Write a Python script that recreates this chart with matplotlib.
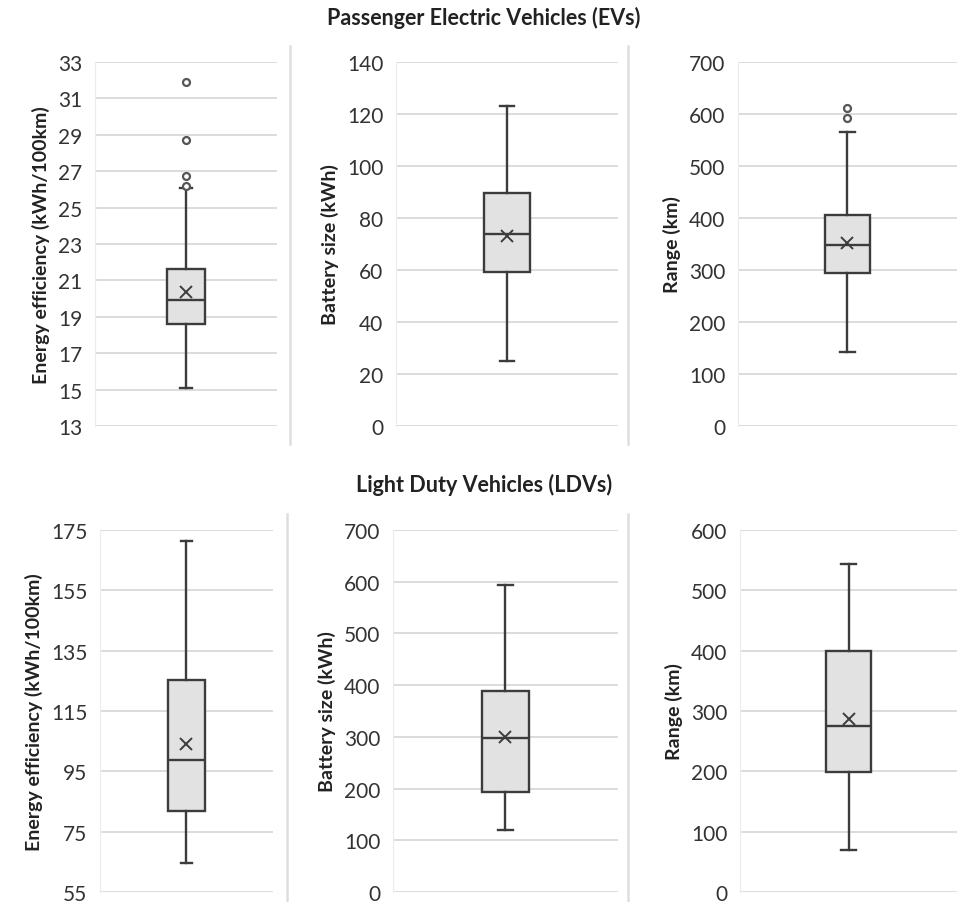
import matplotlib.pyplot as plt
from matplotlib.lines import Line2D

plt.rcParams['font.family'] = ['Lato', 'DejaVu Sans']

# box statistics per panel: whisker low, Q1, median, Q3, whisker high, mean, outliers
ev_eff = dict(whislo=15.1, q1=18.6, med=19.9, q3=21.65, whishi=26.1, mean=20.35,
              fliers=[26.2, 26.75, 28.7, 31.9])
ev_batt = dict(whislo=25, q1=59.2, med=74, q3=89.5, whishi=123, mean=73.1, fliers=[])
ev_range = dict(whislo=142, q1=295, med=349, q3=405, whishi=565, mean=351,
                fliers=[593, 611])
ldv_eff = dict(whislo=64.5, q1=81.7, med=98.8, q3=125.4, whishi=171.5, mean=104.1, fliers=[])
ldv_batt = dict(whislo=120, q1=193, med=297, q3=388, whishi=593, mean=300, fliers=[])
ldv_range = dict(whislo=70, q1=199.5, med=274.5, q3=399, whishi=544, mean=287, fliers=[])

ylabels = ["Energy efficiency (kWh/100km)", "Battery size (kWh)", "Range (km)"]
ev_ticks = [list(range(13, 34, 2)), list(range(0, 141, 20)), list(range(0, 701, 100))]
ldv_ticks = [list(range(55, 176, 20)), list(range(0, 701, 100)), list(range(0, 601, 100))]

W, H = 962, 903
fig = plt.figure(figsize=(W / 100, H / 100), dpi=100)

def px_axes(x0, x1, y0, y1):
    return fig.add_axes([x0 / W, 1 - y1 / H, (x1 - x0) / W, (y1 - y0) / H])

top = [px_axes(95, 277, 63, 427), px_axes(396, 618, 63, 427), px_axes(738, 957, 63, 427)]
bot = [px_axes(100, 273, 531, 893), px_axes(393, 618, 531, 893), px_axes(740, 957, 531, 893)]

line_c = "#3c3c3c"
grid_c = "#dcdcdc"

def draw(ax, stats, ticks, label):
    ax.bxp([stats], positions=[0.5], widths=0.21, capwidths=0.065,
           showmeans=True, patch_artist=True,
           boxprops=dict(facecolor="#e2e2e2", edgecolor=line_c, linewidth=1.7),
           medianprops=dict(color=line_c, linewidth=1.7),
           whiskerprops=dict(color=line_c, linewidth=1.7),
           capprops=dict(color=line_c, linewidth=1.7),
           meanprops=dict(marker="x", markeredgecolor=line_c, markersize=9,
                          markeredgewidth=1.4),
           flierprops=dict(marker="o", markerfacecolor="white", markeredgecolor="#555555",
                           markersize=5, markeredgewidth=1.6))
    ax.set_xlim(0, 1)
    ax.set_ylim(ticks[0], ticks[-1])
    ax.set_yticks(ticks)
    ax.set_xticks([])
    ax.grid(axis="y", color=grid_c, linewidth=1.4)
    ax.set_axisbelow(True)
    for s in ["top", "right", "bottom"]:
        ax.spines[s].set_visible(False)
    ax.spines["left"].set_color("#ececec")
    ax.tick_params(axis="y", length=0, labelsize=15, labelcolor="#333333", pad=9)
    ax.set_ylabel(label, fontsize=14, fontweight="bold", color="#222222", labelpad=6)

for ax, st, tk, lb in zip(top, [ev_eff, ev_batt, ev_range], ev_ticks, ylabels):
    draw(ax, st, tk, lb)
for ax, st, tk, lb in zip(bot, [ldv_eff, ldv_batt, ldv_range], ldv_ticks, ylabels):
    draw(ax, st, tk, lb)

# panel separators
for x in (290, 628):
    fig.add_artist(Line2D([x / W, x / W], [1 - 47 / H, 1 - 445 / H], color="#dedede", linewidth=1.8))
for x in (287, 628):
    fig.add_artist(Line2D([x / W, x / W], [1 - 515 / H, 0], color="#dedede", linewidth=1.8))

fig.text(484 / W, 1 - 18 / H, "Passenger Electric Vehicles (EVs)", ha="center", va="center",
         fontsize=15.5, fontweight="bold", color="#222222")
fig.text(484 / W, 1 - 485 / H, "Light Duty Vehicles (LDVs)", ha="center", va="center",
         fontsize=15.5, fontweight="bold", color="#222222")

fig.savefig("out.png", dpi=100)
